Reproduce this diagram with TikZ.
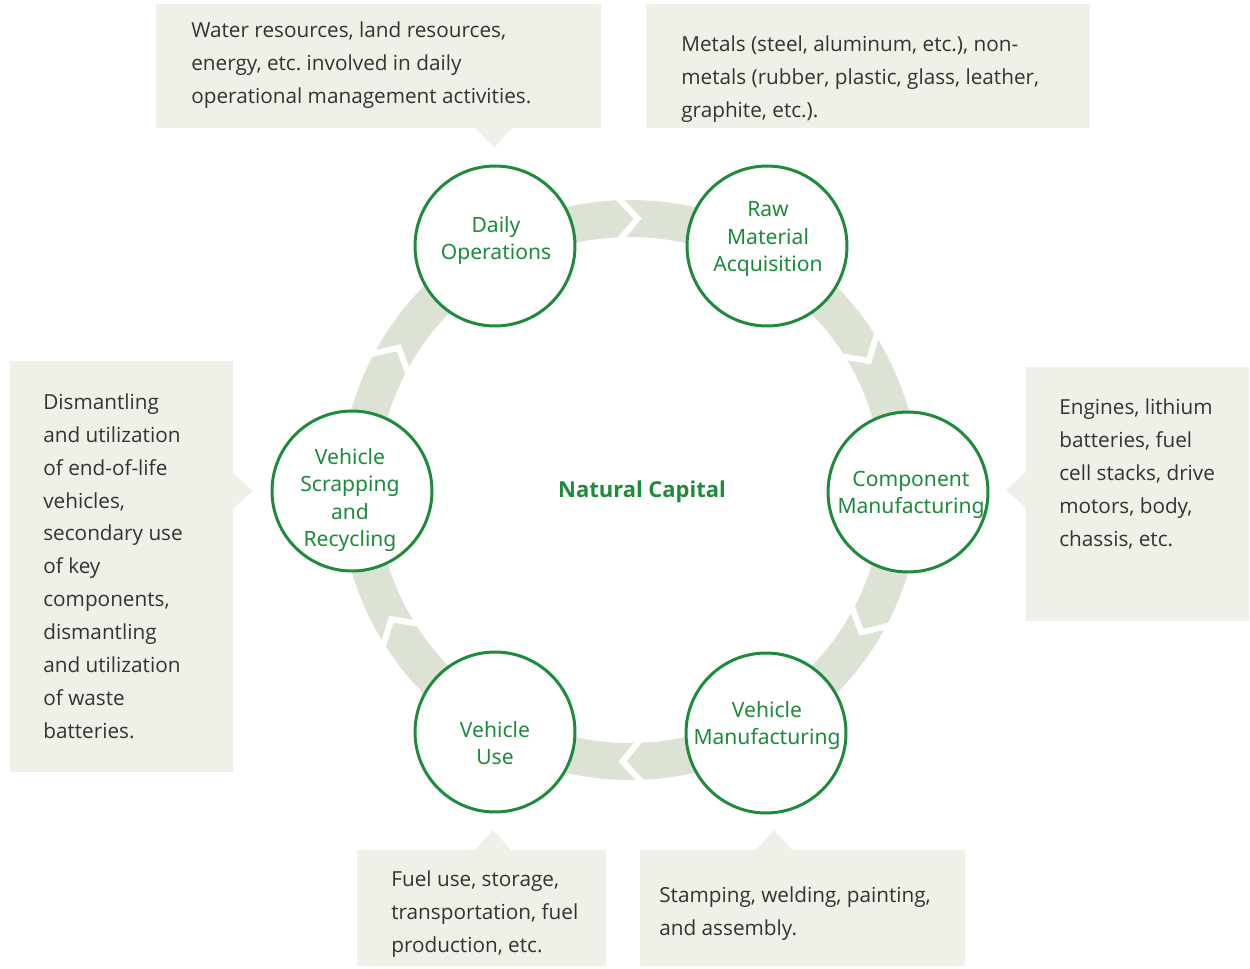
\documentclass[tikz,border=0pt]{standalone}
\usepackage{fontspec}
\setmainfont{Open Sans}
\newfontfamily\labelfont{Noto Sans}
\usetikzlibrary{calc}

\definecolor{leaf}{HTML}{1E8A3C}
\definecolor{band}{HTML}{DCE3D4}
\definecolor{boxbg}{HTML}{EDF1E7}
\definecolor{ink}{HTML}{333333}

\tikzset{
	stage/.style={circle, draw=leaf, line width=1.7pt, fill=white, minimum size=3.2cm, inner sep=0pt},
	stagetext/.style={align=center, text=leaf, inner sep=0pt, font=\labelfont\fontsize{12}{15.6}\selectfont},
	note/.style={anchor=base west, align=left, inner sep=0pt, text=ink, font=\frenchspacing\fontsize{11.8}{18.7}\selectfont},
	chev/.style={white, line width=3.4pt, miter limit=10}
}

\begin{document}
\begin{tikzpicture}[x=0.02cm, y=0.02cm]
	\useasboundingbox (0,0) rectangle (1250,-968);

	% 説明の箱
	\fill[boxbg] (156,-4) rectangle (601,-128);
	\fill[boxbg] (476,-128) -- (494,-148) -- (512,-128) -- cycle;
	\fill[boxbg] (646,-4) rectangle (1090,-128);
	\fill[boxbg] (1026,-367) rectangle (1249,-621);
	\fill[boxbg] (1026,-472) -- (1006,-490) -- (1026,-508) -- cycle;
	\fill[boxbg] (10,-361) rectangle (233,-772);
	\fill[boxbg] (233,-473) -- (253,-491) -- (233,-509) -- cycle;
	\fill[boxbg] (357,-850) rectangle (606,-966);
	\fill[boxbg] (475,-850) -- (493,-830) -- (511,-850) -- cycle;
	\fill[boxbg] (640,-850) rectangle (965,-966);
	\fill[boxbg] (756,-850) -- (774,-830) -- (792,-850) -- cycle;

	% 輪を描く
	\coordinate (C) at (630,-490);
	\fill[band, even odd rule] (C) circle (290) (C) circle (253);
	\foreach \a in {90,30,-30,-90,-150,150}
		\draw[chev] ($(C)+(\a+2.6:294)$) -- ($(C)+(\a-1.6:271.5)$) -- ($(C)+(\a+2.6:249)$);

	% 円を置く
	\node[stage] (daily) at (495,-246) {};
	\node[stage] (raw) at (767,-246) {};
	\node[stage] (comp) at (908,-492) {};
	\node[stage] (vmfg) at (766,-733) {};
	\node[stage] (use) at (495,-732) {};
	\node[stage] (scrap) at (352,-491) {};

	% 名前を入れる
	\node[stagetext] (dailyT) at (496,-240.5) {Daily\\Operations};
	\node[stagetext] (rawT) at (768,-239) {Raw\\Material\\Acquisition};
	\node[stagetext] (compT) at (911,-495) {Component\\Manufacturing};
	\node[stagetext] (vmfgT) at (767,-725.5) {Vehicle\\Manufacturing};
	\node[stagetext] (useT) at (495,-743) {Vehicle\\Use};
	\node[stagetext] (scrapT) at (350,-500) {Vehicle\\Scrapping\\and\\Recycling};
	\node[text=leaf, font=\bfseries\fontsize{12.5}{15}\selectfont] (capital) at (642,-492) {Natural Capital};

	% 説明文 (最後の行の位置)
	\node[note] (dailyN) at (191,-103) {Water resources, land resources,\\energy, etc. involved in daily\\operational management activities.};
	\node[note] (rawN) at (681,-117) {Metals (steel, aluminum, etc.), non-\\metals (rubber, plastic, glass, leather,\\graphite, etc.).};
	\node[note] (compN) at (1059,-546) {Engines, lithium\\batteries, fuel\\cell stacks, drive\\motors, body,\\chassis, etc.};
	\node[note] (scrapN) at (43,-738) {Dismantling\\and utilization\\of end-of-life\\vehicles,\\secondary use\\of key\\components,\\dismantling\\and utilization\\of waste\\batteries.};
	\node[note] (useN) at (391,-952) {Fuel use, storage,\\transportation, fuel\\production, etc.};
	\node[note] (vmfgN) at (659,-935) {Stamping, welding, painting,\\and assembly.};

\end{tikzpicture}
\end{document}
